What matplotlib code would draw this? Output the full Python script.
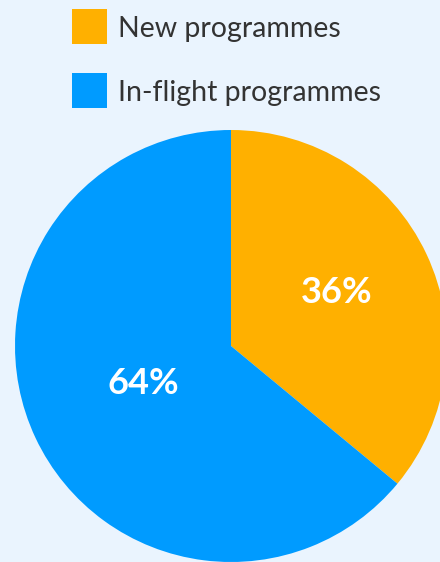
import numpy as np
import matplotlib
matplotlib.use("Agg")
from matplotlib import pyplot as plt
from matplotlib.patches import Rectangle

# programme split (percent)
labels = ["New programmes", "In-flight programmes"]
shares = [36, 64]
colors = ["#FFB000", "#009BFF"]
label_dist = [0.54, 0.45]

BG = "#EAF4FE"
W, H = 440, 562
plt.rcParams['font.family'] = ['Lato', 'DejaVu Sans']

fig = plt.figure(figsize=(W / 100, H / 100), dpi=100, facecolor=BG)

# pie axes: circle of radius 216px centred at (231, 346) from top-left
ax = fig.add_axes([15 / W, 0.0, 432 / W, 432 / H])
ax.set_facecolor(BG)
wedges, _ = ax.pie(shares, colors=colors, startangle=90, counterclock=False,
                   radius=1.0, wedgeprops=dict(linewidth=0))
ax.set_xlim(-1, 1)
ax.set_ylim(-1, 1)
ax.set_aspect('equal')
ax.axis('off')

# percentage labels inside each slice
for w, val, d in zip(wedges, shares, label_dist):
    mid = np.deg2rad((w.theta1 + w.theta2) / 2)
    ax.text(d * np.cos(mid), d * np.sin(mid) + 0.02, f"{val}%", ha='center', va='center',
            color='white', fontsize=26, fontweight='bold')

# legend: square swatch + label, one row every 64px
for i, (lab, c) in enumerate(zip(labels, colors)):
    top = 9 + i * 64
    fig.patches.append(Rectangle((72 / W, 1 - (top + 35) / H), 35 / W, 35 / H,
                                 transform=fig.transFigure, facecolor=c, edgecolor='none'))
    fig.text(118 / W, 1 - (top + 18) / H, lab, ha='left', va='center_baseline',
             fontsize=20.5, color='#333333')

fig.savefig("out.png", dpi=100, facecolor=BG)
